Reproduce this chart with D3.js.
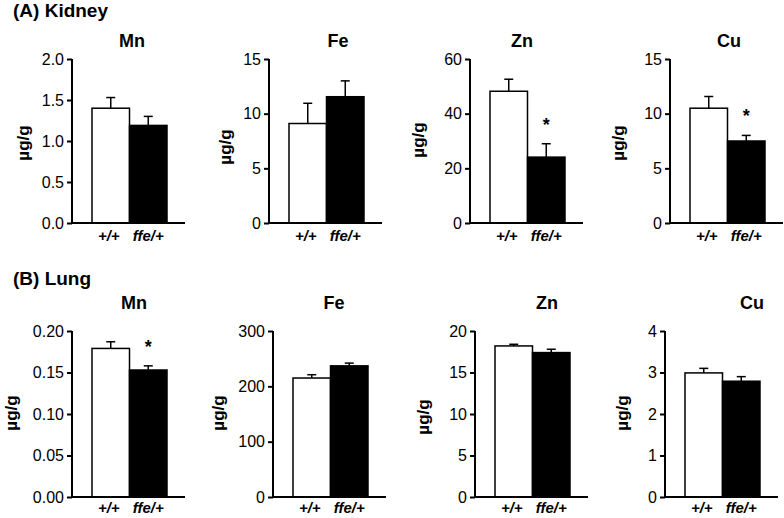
<!DOCTYPE html>
<html><head><meta charset="utf-8">
<script src="https://cdn.jsdelivr.net/npm/d3@7"></script>
<style>
html,body{margin:0;padding:0;background:#fff;}
text{font-family:"Liberation Sans",Arial,Helvetica,sans-serif;fill:#000;}
</style></head>
<body>
<svg id="chart" width="784" height="518"></svg>
<script>
// ---- data ----
const metals = ["Mn", "Fe", "Zn", "Cu"];
const groups = ["+/+", "ffe/+"];
const kidneyMean = [[1.40, 1.19], [9.1, 11.55], [48.2, 24.1], [10.5, 7.5]];
const kidneyErr  = [[0.13, 0.11], [1.85, 1.45], [4.4, 4.9], [1.07, 0.51]];
const kidneyMax  = [2.0, 15, 60, 15];
const kidneyStep = [0.5, 5, 20, 5];
const kidneySig  = [[false, false], [false, false], [false, true], [false, true]];
const lungMean = [[0.179, 0.153], [215, 237], [18.2, 17.4], [2.99, 2.79]];
const lungErr  = [[0.008, 0.005], [6, 5], [0.2, 0.4], [0.11, 0.11]];
const lungMax  = [0.20, 300, 20, 4];
const lungStep = [0.05, 100, 5, 1];
const lungSig  = [[false, true], [false, false], [false, false], [false, false]];
const kidneyFmt = [".1f", "d", "d", "d"];
const lungFmt = [".2f", "d", "d", "d"];
const sections = ["(A) Kidney", "(B) Lung"];
const yLabel = "µg/g";

// ---- layout (positions only) ----
const rows = [
  {top: 59, bottom: 223, headY: 17, titleY: 47, xlabY: 241,
   axisX: [72, 269, 470, 670], titleX: [132, 338, 522, 729],
   ylabX: [23, 225, 418, 618], ylabY: [143, 147, 140, 143]},
  {top: 331, bottom: 497, headY: 285, titleY: 309, xlabY: 513,
   axisX: [72, 273, 475, 665], titleX: [134, 334, 547, 752],
   ylabX: [11, 218, 423, 622], ylabY: [413, 413, 417, 413]}
];
const rowData = [
  {mean: kidneyMean, err: kidneyErr, max: kidneyMax, step: kidneyStep, sig: kidneySig, fmt: kidneyFmt},
  {mean: lungMean, err: lungErr, max: lungMax, step: lungStep, sig: lungSig, fmt: lungFmt}
];

const svg = d3.select("#chart");

rows.forEach((L, r) => {
  const D = rowData[r];
  svg.append("text").attr("x", 13).attr("y", L.headY)
    .attr("font-size", 19).attr("font-weight", "bold").text(sections[r]);

  metals.forEach((m, i) => {
    const ax = L.axisX[i];
    const g = svg.append("g");
    const y = d3.scaleLinear().domain([0, D.max[i]]).range([L.bottom, L.top]);
    const x = d3.scaleBand().domain(groups).range([ax + 20, ax + 95]).paddingInner(0).paddingOuter(0);
    const tickVals = d3.range(0, D.max[i] + D.step[i] / 2, D.step[i]);

    const yAxis = d3.axisLeft(y).tickValues(tickVals).tickFormat(d3.format(D.fmt[i]))
      .tickSize(5).tickPadding(3);
    const ga = g.append("g").attr("transform", `translate(${ax},0)`).call(yAxis);
    ga.select(".domain").attr("stroke", "#000").attr("stroke-width", 2).attr("d", `M0,${L.top}V${L.bottom}`);
    ga.selectAll(".tick line").attr("stroke", "#000").attr("stroke-width", 2);
    ga.selectAll(".tick text").attr("font-size", 16).attr("font-family", "Liberation Sans, Arial, sans-serif").attr("fill", "#000");

    // error bars (upward)
    groups.forEach((gr, j) => {
      const cx = x(gr) + x.bandwidth() / 2;
      const v = D.mean[i][j], e = D.err[i][j];
      g.append("line").attr("x1", cx).attr("x2", cx).attr("y1", y(v)).attr("y2", y(v + e))
        .attr("stroke", "#000").attr("stroke-width", 1.5);
      g.append("line").attr("x1", cx - 4.5).attr("x2", cx + 4.5).attr("y1", y(v + e)).attr("y2", y(v + e))
        .attr("stroke", "#000").attr("stroke-width", 1.5);
      if (D.sig[i][j]) {
        g.append("text").attr("x", cx).attr("y", y(v + e) - 23 + 10)
          .attr("text-anchor", "middle").attr("font-size", 18).attr("font-weight", "bold").text("*");
      }
    });

    // bars
    g.selectAll("rect.bar").data(groups).join("rect").attr("class", "bar")
      .attr("x", d => x(d)).attr("width", x.bandwidth())
      .attr("y", (d, j) => y(D.mean[i][j]))
      .attr("height", (d, j) => L.bottom - y(D.mean[i][j]))
      .attr("fill", (d, j) => j === 0 ? "#fff" : "#000")
      .attr("stroke", "#000").attr("stroke-width", 1.5);

    // x axis line
    g.append("line").attr("x1", ax - 1).attr("x2", ax + 113).attr("y1", L.bottom).attr("y2", L.bottom)
      .attr("stroke", "#000").attr("stroke-width", 2);

    // x labels
    groups.forEach((gr, j) => {
      g.append("text").attr("x", x(gr) + x.bandwidth() / 2 + (j === 0 ? -2 : 0)).attr("y", L.xlabY)
        .attr("text-anchor", "middle").attr("font-size", 15).attr("font-weight", "bold")
        .attr("font-style", "italic").text(gr);
    });

    // title
    g.append("text").attr("x", L.titleX[i]).attr("y", L.titleY).attr("text-anchor", "middle")
      .attr("font-size", 18).attr("font-weight", "bold").text(m);

    // y label
    g.append("text").attr("transform", `translate(${L.ylabX[i] + 6},${L.ylabY[i]}) rotate(-90)`)
      .attr("text-anchor", "middle").attr("font-size", 17).attr("font-weight", "bold").text(yLabel);
  });
});
</script>
</body></html>
